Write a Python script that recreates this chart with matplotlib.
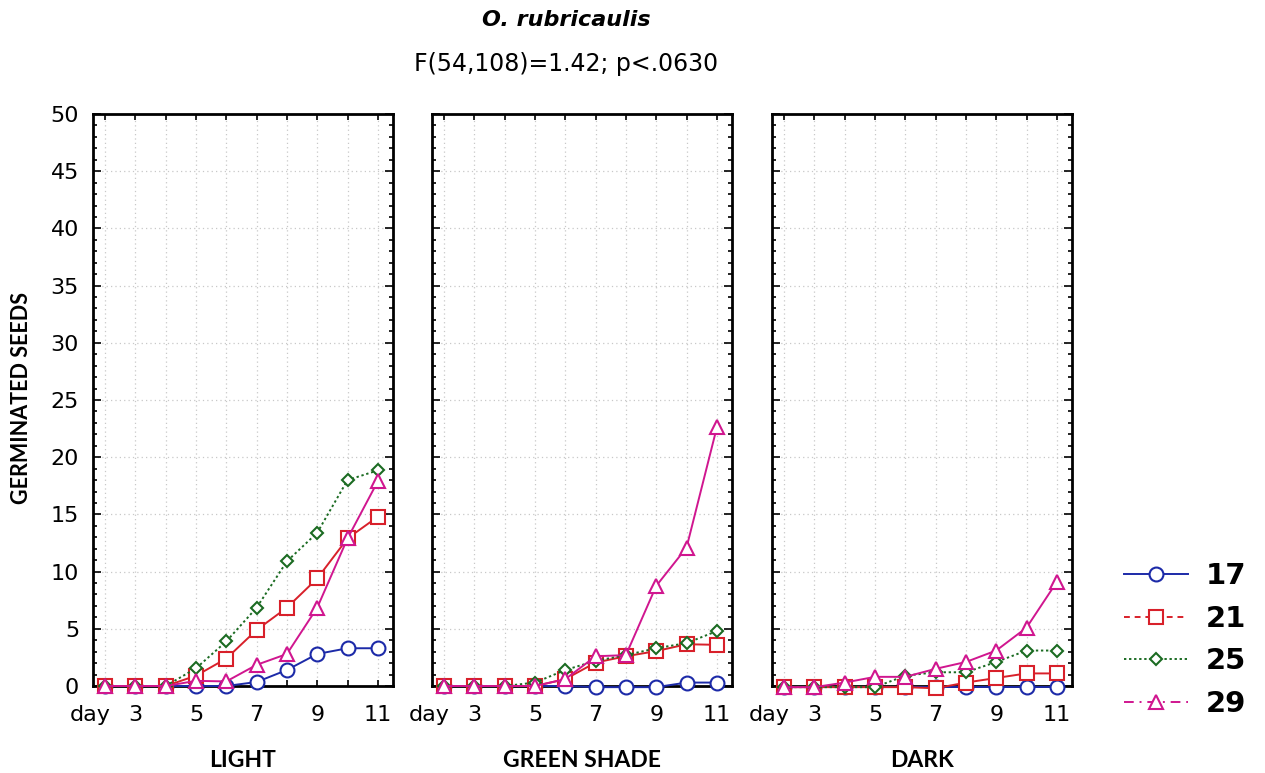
import matplotlib
matplotlib.use('Agg')
import matplotlib.pyplot as plt
from matplotlib.lines import Line2D
import numpy as np

plt.rcParams['font.family'] = ['DejaVu Sans']

days = [2, 3, 4, 5, 6, 7, 8, 9, 10, 11]
temps = ['17', '21', '25', '29']
panels = ['LIGHT', 'GREEN SHADE', 'DARK']

# germinated seeds per panel, per temperature
light = {
    '17': [0, 0, 0, 0, 0, 0.35, 1.4, 2.8, 3.3, 3.3],
    '21': [0, 0, 0, 0.9, 2.4, 4.9, 6.85, 9.4, 12.9, 14.8],
    '25': [0, 0, 0, 1.55, 3.9, 6.85, 10.9, 13.4, 18.0, 18.85],
    '29': [0, 0, 0, 0.45, 0.4, 1.85, 2.8, 6.85, 12.9, 17.9],
}
shade = {
    '17': [0, 0, 0, 0, 0, -0.1, -0.1, -0.1, 0.3, 0.3],
    '21': [0, 0, 0, 0, 0.6, 2.05, 2.6, 3.05, 3.65, 3.6],
    '25': [0, 0, 0, 0.3, 1.4, 2.2, 2.7, 3.3, 3.75, 4.8],
    '29': [0, 0, 0, 0, 0.6, 2.6, 2.7, 8.75, 12.1, 22.6],
}
dark = {
    '17': [-0.1, -0.1, -0.1, -0.1, -0.1, -0.1, -0.1, -0.1, -0.1, -0.1],
    '21': [-0.1, -0.1, -0.1, -0.1, -0.1, -0.2, 0.3, 0.7, 1.1, 1.1],
    '25': [-0.1, -0.1, -0.1, -0.1, 0.9, 1.2, 1.2, 2.1, 3.1, 3.1],
    '29': [-0.1, -0.1, 0.3, 0.8, 0.8, 1.5, 2.1, 3.1, 5.1, 9.1],
}
data = [light, shade, dark]

colors = {'17': '#1c2aa8', '21': '#d8202a', '25': '#1b6b22', '29': '#d0168f'}
markers = {'17': 'o', '21': 's', '25': 'D', '29': '^'}
msizes = {'17': 10, '21': 10, '25': 6, '29': 9.5}
plot_ls = {'17': '-', '21': '-', '25': (0, (1.2, 1.4)), '29': '-'}
leg_ls = {'17': '-', '21': (0, (3, 2.5)), '25': (0, (1.2, 1.4)), '29': (0, (5, 3, 1, 3))}

fig = plt.figure(figsize=(12.65, 7.73), dpi=100)
lefts = [93, 432, 772]
width = 300
bottom = 1 - 686 / 773
top = 1 - 114 / 773

for k, (name, d) in enumerate(zip(panels, data)):
    ax = fig.add_axes([lefts[k] / 1265, bottom, width / 1265, top - bottom])
    for t in temps:
        ax.plot(days, d[t], color=colors[t], linestyle=plot_ls[t], linewidth=1.4,
                marker=markers[t], markersize=msizes[t], markerfacecolor='white',
                markeredgecolor=colors[t], markeredgewidth=1.5, clip_on=False, zorder=3)
    ax.set_xlim(1.6, 11.5)
    ax.set_ylim(0, 50)
    ax.set_xticks(days)
    ax.set_xticklabels(['', '3', '', '5', '', '7', '', '9', '', '11'])
    ax.set_yticks(np.arange(0, 51, 5))
    ax.set_yticks(np.arange(0, 51, 1), minor=True)
    ax.tick_params(axis='both', which='both', direction='in', top=True, right=True,
                   labelsize=16, width=1.2)
    ax.tick_params(axis='x', which='major', length=4, pad=14)
    ax.tick_params(axis='y', which='major', length=6, pad=10)
    ax.tick_params(axis='y', which='minor', length=3)
    if k > 0:
        ax.set_yticklabels([])
    ax.text(1.5, -0.05, 'day', transform=ax.get_xaxis_transform(), fontsize=16,
            ha='center', va='center')
    ax.grid(True, which='major', color='#c8c8c8', linestyle=(0, (1, 2.5)), linewidth=0.9)
    for s in ax.spines.values():
        s.set_linewidth(2)
    ax.set_xlabel(name, fontsize=16.5, fontweight='bold', family='Lato', labelpad=18)

fig.text(22 / 1265, 1 - 398 / 773, 'GERMINATED SEEDS', rotation=90, fontsize=15.5,
         fontweight='bold', family='Lato', ha='center', va='center')
fig.text(566 / 1265, 1 - 20 / 773, 'O. rubricaulis', fontsize=16, fontweight='bold',
         fontstyle='italic', ha='center', va='center')
fig.text(566 / 1265, 1 - 64 / 773, 'F(54,108)=1.42; p<.0630', fontsize=17,
         ha='center', va='center')

handles = [Line2D([], [], color=colors[t], linestyle=leg_ls[t], linewidth=1.4,
                  marker=markers[t], markersize=msizes[t], markerfacecolor='white',
                  markeredgecolor=colors[t], markeredgewidth=1.5) for t in temps]
leg = fig.legend(handles, temps, loc='center', bbox_to_anchor=(1185 / 1265, 1 - 640 / 773),
                 frameon=False, handlelength=2.2, handletextpad=0.6, labelspacing=0.5,
                 prop={'size': 21, 'weight': 'bold'})

fig.savefig('out.png', dpi=100)
